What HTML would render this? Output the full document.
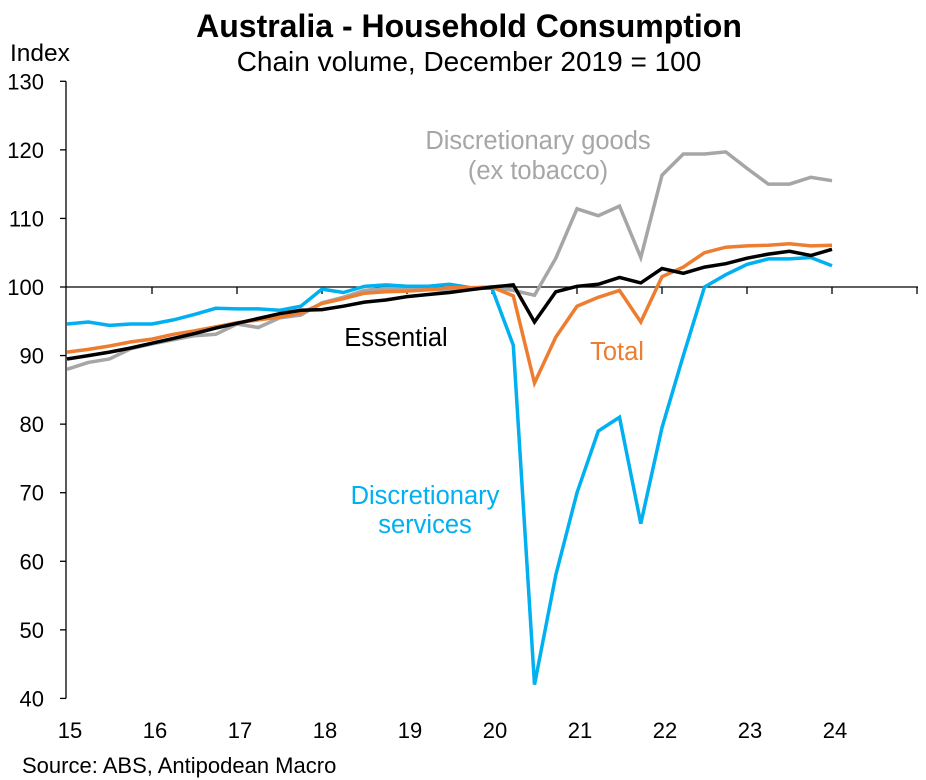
<!DOCTYPE html>
<html><head><meta charset="utf-8"><style>
body{margin:0;background:#fff}
svg{display:block;font-family:"Liberation Sans",Arial,sans-serif}
</style></head><body>
<svg width="926" height="780" viewBox="0 0 926 780" xmlns="http://www.w3.org/2000/svg">
<rect width="926" height="780" fill="#fff"/>
<text x="469" y="37" text-anchor="middle" font-size="32" font-weight="bold">Australia - Household Consumption</text>
<text x="469" y="71" text-anchor="middle" font-size="28">Chain volume, December 2019 = 100</text>
<text x="10" y="61" font-size="24.5">Index</text>
<g id="axes"></g>
<g id="series"></g>
<text x="538" y="149" text-anchor="middle" font-size="25.5" fill="#a6a6a6">Discretionary goods</text>
<text x="538" y="179" text-anchor="middle" font-size="25.5" fill="#a6a6a6">(ex tobacco)</text>
<text x="396" y="346" text-anchor="middle" font-size="25.5" fill="#000">Essential</text>
<text x="617" y="360" text-anchor="middle" font-size="25.5" fill="#ed7d31">Total</text>
<text x="425" y="504" text-anchor="middle" font-size="25.5" fill="#00b0f0">Discretionary</text>
<text x="425" y="533" text-anchor="middle" font-size="25.5" fill="#00b0f0">services</text>
<text x="22" y="773" font-size="22">Source: ABS, Antipodean Macro</text>
</svg>
<script>
const yTicks=[40,50,60,70,80,90,100,110,120,130];
const xTickLabels=["15","16","17","18","19","20","21","22","23","24"];
const services=[94.6,94.9,94.4,94.6,94.6,95.2,96.0,96.9,96.8,96.8,96.6,97.2,99.7,99.2,100.1,100.3,100.1,100.1,100.4,99.9,99.8,91.5,42,58,70,79,81,65.5,79.5,90,100,101.8,103.3,104.1,104.1,104.3,103.1];
const goods=[88,89,89.5,91,91.7,92.3,92.9,93.1,94.6,94.1,95.5,95.9,97.7,98.5,99.5,99.8,99.7,99.6,99.6,99.8,100,99.5,98.8,104.2,111.4,110.4,111.8,104.3,116.3,119.4,119.4,119.7,117.3,115,115,116,115.5];
const total=[90.5,90.9,91.4,92,92.4,93.1,93.6,94.2,94.8,95.2,95.6,96.2,97.6,98.3,99.1,99.3,99.4,99.6,99.9,99.9,100,98.7,86,92.7,97.2,98.5,99.5,94.9,101.5,102.9,105,105.8,106,106.1,106.3,106,106.1];
const essential=[89.5,90,90.5,91.1,91.8,92.5,93.2,94,94.7,95.4,96.1,96.6,96.7,97.2,97.8,98.1,98.6,98.9,99.2,99.6,100,100.3,94.9,99.3,100.1,100.4,101.4,100.6,102.7,102,102.9,103.4,104.2,104.8,105.2,104.6,105.5];
const NS="http://www.w3.org/2000/svg";
const yPix=v=>287-(v-100)*6.857;
const xPix=i=>67+21.25*i;
const axes=document.getElementById('axes');
function mk(tag,attrs,parent){const e=document.createElementNS(NS,tag);for(const k in attrs)e.setAttribute(k,attrs[k]);parent.appendChild(e);return e;}
let l=mk('line',{x1:66,y1:yPix(130),x2:66,y2:yPix(40),stroke:'#000','stroke-width':1.3},axes);


yTicks.forEach(v=>{
 const t=mk('line',{x1:60,x2:66,y1:yPix(v),y2:yPix(v),stroke:'#000','stroke-width':1.3},axes);
 
 
 const tx=mk('text',{x:44,y:yPix(v)+8,'text-anchor':'end','font-size':22},axes);
 tx.textContent=v;
 
 
});
l=mk('line',{x1:66,y1:287,x2:918,y2:287,stroke:'#000','stroke-width':1.3},axes);


xTickLabels.forEach((s,k)=>{
 const x=67+85*k;
 if(k>0){const t=mk('line',{x1:x,x2:x,y1:287,y2:294,stroke:'#000','stroke-width':1.3},axes);
 
 }
 const tx=mk('text',{x:x+3,y:738,'text-anchor':'middle','font-size':22},axes);
 tx.textContent=s;
 
 
});
const t9=mk('line',{x1:917,x2:917,y1:287,y2:294,stroke:'#000','stroke-width':1.3},axes);


const ser=document.getElementById('series');
function line(arr,color,name){
 const p=mk('polyline',{points:arr.map((v,i)=>xPix(i).toFixed(1)+','+yPix(v).toFixed(1)).join(' '),fill:'none',stroke:color,'stroke-width':3.5,'stroke-linejoin':'miter'},ser);
 
 
}
line(goods,'#a6a6a6','line-discretionary-goods');
line(services,'#00b0f0','line-discretionary-services');
line(total,'#ed7d31','line-total');
line(essential,'#000000','line-essential');
</script>
</body></html>
